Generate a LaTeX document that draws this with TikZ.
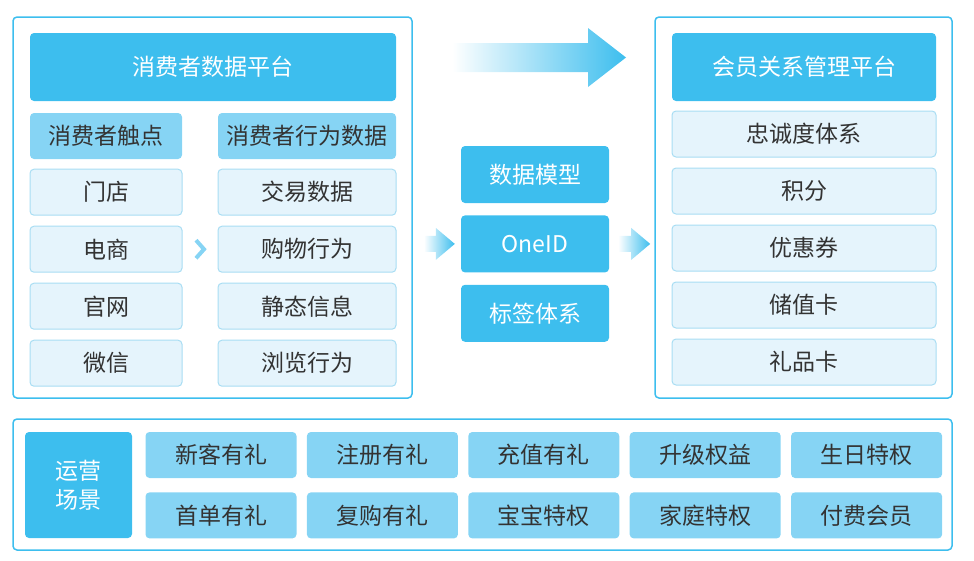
\documentclass[tikz,border=0pt]{standalone}
\usepackage{fontspec}
\setmainfont{Noto Sans CJK SC}
\usetikzlibrary{positioning,calc}
\definecolor{mainblue}{RGB}{61,190,238}
\definecolor{subblue}{RGB}{134,212,244}
\definecolor{itemfill}{RGB}{229,244,252}
\definecolor{itemline}{RGB}{168,221,243}
\definecolor{darktext}{RGB}{51,51,51}
\begin{document}
\begin{tikzpicture}[x=1pt, y=-1pt,
                    node distance=10pt,
                    font=\fontsize{23}{27}\selectfont]
    \tikzstyle{frame}=[draw=mainblue, line width=1.5pt, rounded corners=4pt]
    \tikzstyle{title}=[rectangle, rounded corners=4pt, fill=mainblue, text=white, inner sep=0pt]
    \tikzstyle{header}=[title, fill=subblue, text=darktext, minimum height=46pt]
    \tikzstyle{item}=[header, fill=itemfill, draw=itemline, line width=1pt]
    \tikzstyle{scene}=[header, minimum width=151pt]
    \tikzstyle{flow}=[shade, left color=white, right color=mainblue]

    \useasboundingbox (0,0) rectangle (974,560);

    % outer frames
    \draw[frame] (13,17) rectangle (412,398);
    \draw[frame] (655,17) rectangle (952,398);
    \draw[frame] (13,419) rectangle (952,550);

    % consumer data platform
    \node[title, minimum width=366pt, minimum height=68pt] (cdp) at (213,67) {消费者数据平台};
    \node[header, minimum width=152pt] (touch) at (106,136) {消费者触点};
    \node[header, minimum width=178pt] (behave) at (307,136) {消费者行为数据};

    \node[item, minimum width=152pt, below=9.5pt of touch] (store) {门店};
    \node[item, minimum width=152pt, below=of store] (shop) {电商};
    \node[item, minimum width=152pt, below=of shop] (web) {官网};
    \node[item, minimum width=152pt, below=of web] (wechat) {微信};

    \node[item, minimum width=178pt, below=9.5pt of behave] (trade) {交易数据};
    \node[item, minimum width=178pt, below=of trade] (buy) {购物行为};
    \node[item, minimum width=178pt, below=of buy] (static) {静态信息};
    \node[item, minimum width=178pt, below=of static] (browse) {浏览行为};

    \coordinate (chev) at ($(shop.east)!0.5!(buy.west)$);
    \draw[subblue, line width=4pt] ([xshift=-4pt,yshift=9pt]chev) -- ([xshift=4pt]chev) -- ([xshift=-4pt,yshift=-9pt]chev);

    % middle
    \node[title, minimum width=148pt, minimum height=57pt] (model) at (535,174.5) {数据模型};
    \node[title, minimum width=148pt, minimum height=57pt, below=12pt of model] (oneid) {OneID};
    \node[title, minimum width=148pt, minimum height=57pt, below=12pt of oneid] (tags) {标签体系};

    \shade[flow] (452,43) -- (588,43) -- (588,28) -- (626,57.5) -- (588,87) -- (588,72) -- (452,72) -- cycle;
    \coordinate (inarrow) at ([xshift=-6pt]oneid.west);
    \shade[flow] ([xshift=-31pt,yshift=8pt]inarrow) -- ([xshift=-19pt,yshift=8pt]inarrow) -- ([xshift=-19pt,yshift=16pt]inarrow)
        -- (inarrow) -- ([xshift=-19pt,yshift=-16pt]inarrow) -- ([xshift=-19pt,yshift=-8pt]inarrow) -- ([xshift=-31pt,yshift=-8pt]inarrow) -- cycle;
    \coordinate (outarrow) at ([xshift=41pt]oneid.east);
    \shade[flow] ([xshift=-32pt,yshift=8pt]outarrow) -- ([xshift=-19pt,yshift=8pt]outarrow) -- ([xshift=-19pt,yshift=16pt]outarrow)
        -- (outarrow) -- ([xshift=-19pt,yshift=-16pt]outarrow) -- ([xshift=-19pt,yshift=-8pt]outarrow) -- ([xshift=-32pt,yshift=-8pt]outarrow) -- cycle;

    % member platform
    \node[title, minimum width=264pt, minimum height=68pt] (crm) at (804,67) {会员关系管理平台};
    \node[item, minimum width=264pt] (loyal) at (804,134) {忠诚度体系};
    \node[item, minimum width=264pt, below=of loyal] (points) {积分};
    \node[item, minimum width=264pt, below=of points] (coupon) {优惠券};
    \node[item, minimum width=264pt, below=of coupon] (stored) {储值卡};
    \node[item, minimum width=264pt, below=of stored] (gift) {礼品卡};

    % scenes
    \node[title, minimum width=107pt, minimum height=106pt, align=center,
          font=\fontsize{23}{29}\selectfont] (ops) at (78.5,485) {运营\\场景};
    \node[scene] (s1) at (221,455) {新客有礼};
    \node[scene, right=10pt of s1] (s2) {注册有礼};
    \node[scene, right=10pt of s2] (s3) {充值有礼};
    \node[scene, right=10pt of s3] (s4) {升级权益};
    \node[scene, right=10pt of s4] (s5) {生日特权};
    \node[scene, below=14pt of s1] (t1) {首单有礼};
    \node[scene, right=10pt of t1] (t2) {复购有礼};
    \node[scene, right=10pt of t2] (t3) {宝宝特权};
    \node[scene, right=10pt of t3] (t4) {家庭特权};
    \node[scene, right=10pt of t4] (t5) {付费会员};
\end{tikzpicture}
\end{document}
